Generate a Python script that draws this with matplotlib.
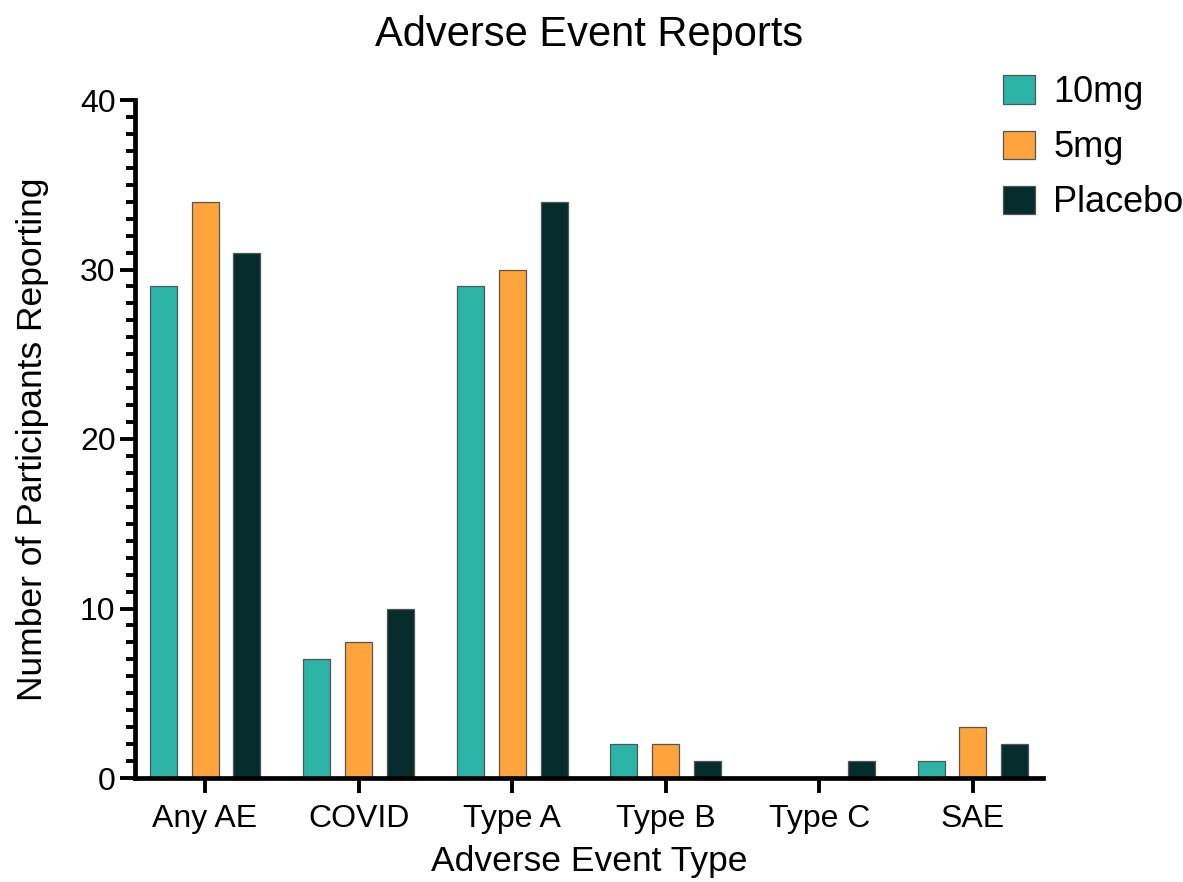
import matplotlib
matplotlib.use("Agg")
import matplotlib.pyplot as plt
import numpy as np
from matplotlib.ticker import MultipleLocator

categories = ["Any AE", "COVID", "Type A", "Type B", "Type C", "SAE"]
series_names = ["10mg", "5mg", "Placebo"]
vals_10mg = [29, 7, 29, 2, 0, 1]
vals_5mg = [34, 8, 30, 2, 0, 3]
vals_placebo = [31, 10, 34, 1, 1, 2]
colors = ["#2BB3A6", "#FFA43C", "#062D2B"]

plt.rcParams['font.family'] = ['Liberation Sans', 'DejaVu Sans']

fig = plt.figure(figsize=(11.83, 8.82), dpi=100)
ax = fig.add_axes([135/1183, 104/882, (1043-135)/1183, (778-100)/882])

x = np.arange(len(categories))
width = 0.176
offset = 0.273
for i, (vals, name) in enumerate(zip([vals_10mg, vals_5mg, vals_placebo], series_names)):
    ax.bar(x + (i - 1) * offset, vals, width, color=colors[i], edgecolor="#555555",
           linewidth=0.9, label=name, zorder=2)

ax.set_xlim(-0.456, 5.456)
ax.set_ylim(0, 40)
ax.set_xticks(x)
ax.set_xticklabels(categories)
ax.yaxis.set_major_locator(MultipleLocator(10))
ax.yaxis.set_minor_locator(MultipleLocator(1))

for s in ["top", "right"]:
    ax.spines[s].set_visible(False)
for s in ["left", "bottom"]:
    ax.spines[s].set_linewidth(3.4)
    ax.spines[s].set_capstyle("projecting")

ax.tick_params(axis="both", which="major", length=11, width=2.8, labelsize=23)
ax.tick_params(axis="x", which="major", pad=8)
ax.tick_params(axis="y", which="major", pad=3)
ax.tick_params(axis="y", which="minor", length=6.5, width=2.8)
ax.tick_params(axis="x", which="minor", length=0)

ax.set_title("Adverse Event Reports", fontsize=30, pad=39)
ax.set_xlabel("Adverse Event Type", fontsize=25.5, labelpad=8)
ax.set_ylabel("Number of Participants Reporting", fontsize=25.5, labelpad=22)

leg = fig.legend(loc="upper left", bbox_to_anchor=(1003/1183, 1 - 75/882), frameon=False,
                 fontsize=26, handlelength=0.89, handleheight=0.83, handletextpad=0.5,
                 labelspacing=0.56, borderaxespad=0, borderpad=0)

fig.savefig("out.png", dpi=100)
